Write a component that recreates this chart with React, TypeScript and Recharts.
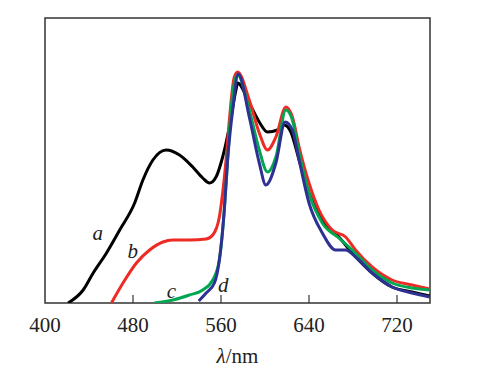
import { LineChart, Line, XAxis, YAxis, ReferenceDot, ReferenceArea, ReferenceLine } from "recharts"

const xTicks = [400, 480, 560, 640, 720]

const curveA = [
  [421, 0], [434.7, 13], [443.8, 30], [455.9, 50], [467.9, 73], [481.5, 100], [489, 123],
  [498.1, 143], [510.2, 153], [522.3, 148], [534.3, 136], [543.4, 125], [549.5, 120],
  [555.5, 126], [561.5, 146], [567.6, 176], [573.6, 213], [575.1, 220], [585.7, 200],
  [594.8, 181], [602.3, 171], [611.3, 173], [617.4, 178], [623.5, 171], [631, 143],
  [640, 110], [652.1, 83], [667.2, 66], [679.3, 50], [697.4, 30], [715.5, 16],
  [733.6, 11], [750, 7],
]
const curveB = [
  [460.4, 0], [470.9, 20], [483.1, 40], [495.1, 53], [507.2, 61], [516.2, 63], [531.3, 63],
  [546.5, 64], [552.5, 68], [558.5, 86], [561.5, 110], [564.6, 143], [567.6, 183],
  [572.1, 226], [575.1, 231], [585.7, 203], [594.8, 170], [602.3, 153], [609.9, 166],
  [619, 196], [624.9, 186], [631, 156], [640, 120], [649.1, 93], [661.1, 73],
  [673.3, 66], [682.3, 53], [697.4, 36], [715.5, 23], [733.6, 18], [750, 14],
]
const curveC = [
  [499.6, 0], [516.2, 3], [531.3, 8], [543.4, 13], [552.5, 23], [558.5, 43], [563, 93],
  [566, 143], [569.1, 193], [573.6, 226], [575.1, 228], [585.7, 193], [594.8, 153],
  [602.3, 131], [609.9, 146], [619, 193], [624.9, 183], [631, 150], [640, 110],
  [652.1, 80], [667.2, 65], [679.3, 53], [697.4, 33], [715.5, 20], [733.6, 15], [750, 13],
]
const curveD = [
  [539.8, 2], [546.5, 10], [554, 20], [558.5, 43], [563, 93], [566, 143], [570.6, 193],
  [575.7, 229], [585.7, 186], [594.8, 140], [600.8, 118], [609.9, 140], [618.3, 181],
  [624.9, 173], [631, 143], [640, 100], [652.1, 70], [664.2, 53], [673.3, 53],
  [682.3, 46], [697.4, 30], [715.5, 16], [733.6, 10], [750, 6],
]

const toRows = (pts: number[][]) => pts.map(([x, y]) => ({ x, y }))

const series = [
  { name: "a", pts: curveA, color: "#000000" },
  { name: "b", pts: curveB, color: "#ee2a24" },
  { name: "c", pts: curveC, color: "#00a651" },
  { name: "d", pts: curveD, color: "#2e3192" },
]

const curveLabels = [
  { text: "a", x: 448, y: 70 },
  { text: "b", x: 479.7, y: 52 },
  { text: "c", x: 515, y: 12 },
  { text: "d", x: 562, y: 18 },
]

const serif = "'Liberation Serif', 'Times New Roman', serif"
const frame = "#333"

function AxisTitle({ viewBox }: any) {
  const cx = viewBox.x + viewBox.width / 2
  const y = viewBox.y + viewBox.height - 8
  return (
    <text x={cx} y={y} textAnchor="middle" fill="#222" fontSize={21} fontFamily={serif}>
      <tspan fontStyle="italic">λ</tspan>
      <tspan>/nm</tspan>
    </text>
  )
}

export default function App() {
  return (
    <div style={{ position: "absolute", left: 0, top: 0, width: 483, height: 371, background: "#fff" }}>
      <LineChart width={483} height={371} margin={{ top: 18, right: 53, bottom: 0, left: 45 }}>
        <XAxis
          type="number"
          dataKey="x"
          domain={[400, 750]}
          ticks={xTicks}
          allowDataOverflow
          height={68}
          axisLine={false}
          tickLine={false}
          tickMargin={8}
          tick={{ fill: "#222", fontSize: 21, fontFamily: serif }}
          label={<AxisTitle />}
        />
        <YAxis domain={[0, 285]} allowDataOverflow width={0} tick={false} tickLine={false} axisLine={false} />
        <ReferenceArea x1={400} x2={750} y1={0} y2={285} fill="none" stroke={frame} strokeWidth={1.5} />
        {xTicks.slice(1).map((t) => (
          <ReferenceLine
            key={t}
            segment={[{ x: t, y: 0 }, { x: t, y: 8 }]}
            stroke={frame}
            strokeWidth={1.2}
          />
        ))}
        {series.map((s) => (
          <Line
            key={s.name}
            data={toRows(s.pts)}
            dataKey="y"
            type="monotone"
            stroke={s.color}
            strokeWidth={3}
            dot={false}
            isAnimationActive={false}
          />
        ))}
        {curveLabels.map((l) => (
          <ReferenceDot
            key={l.text}
            x={l.x}
            y={l.y}
            r={0}
            stroke="none"
            label={{
              value: l.text,
              position: "center",
              fill: "#222",
              fontSize: 21,
              fontStyle: "italic",
              fontFamily: serif,
            }}
          />
        ))}
      </LineChart>
    </div>
  )
}
